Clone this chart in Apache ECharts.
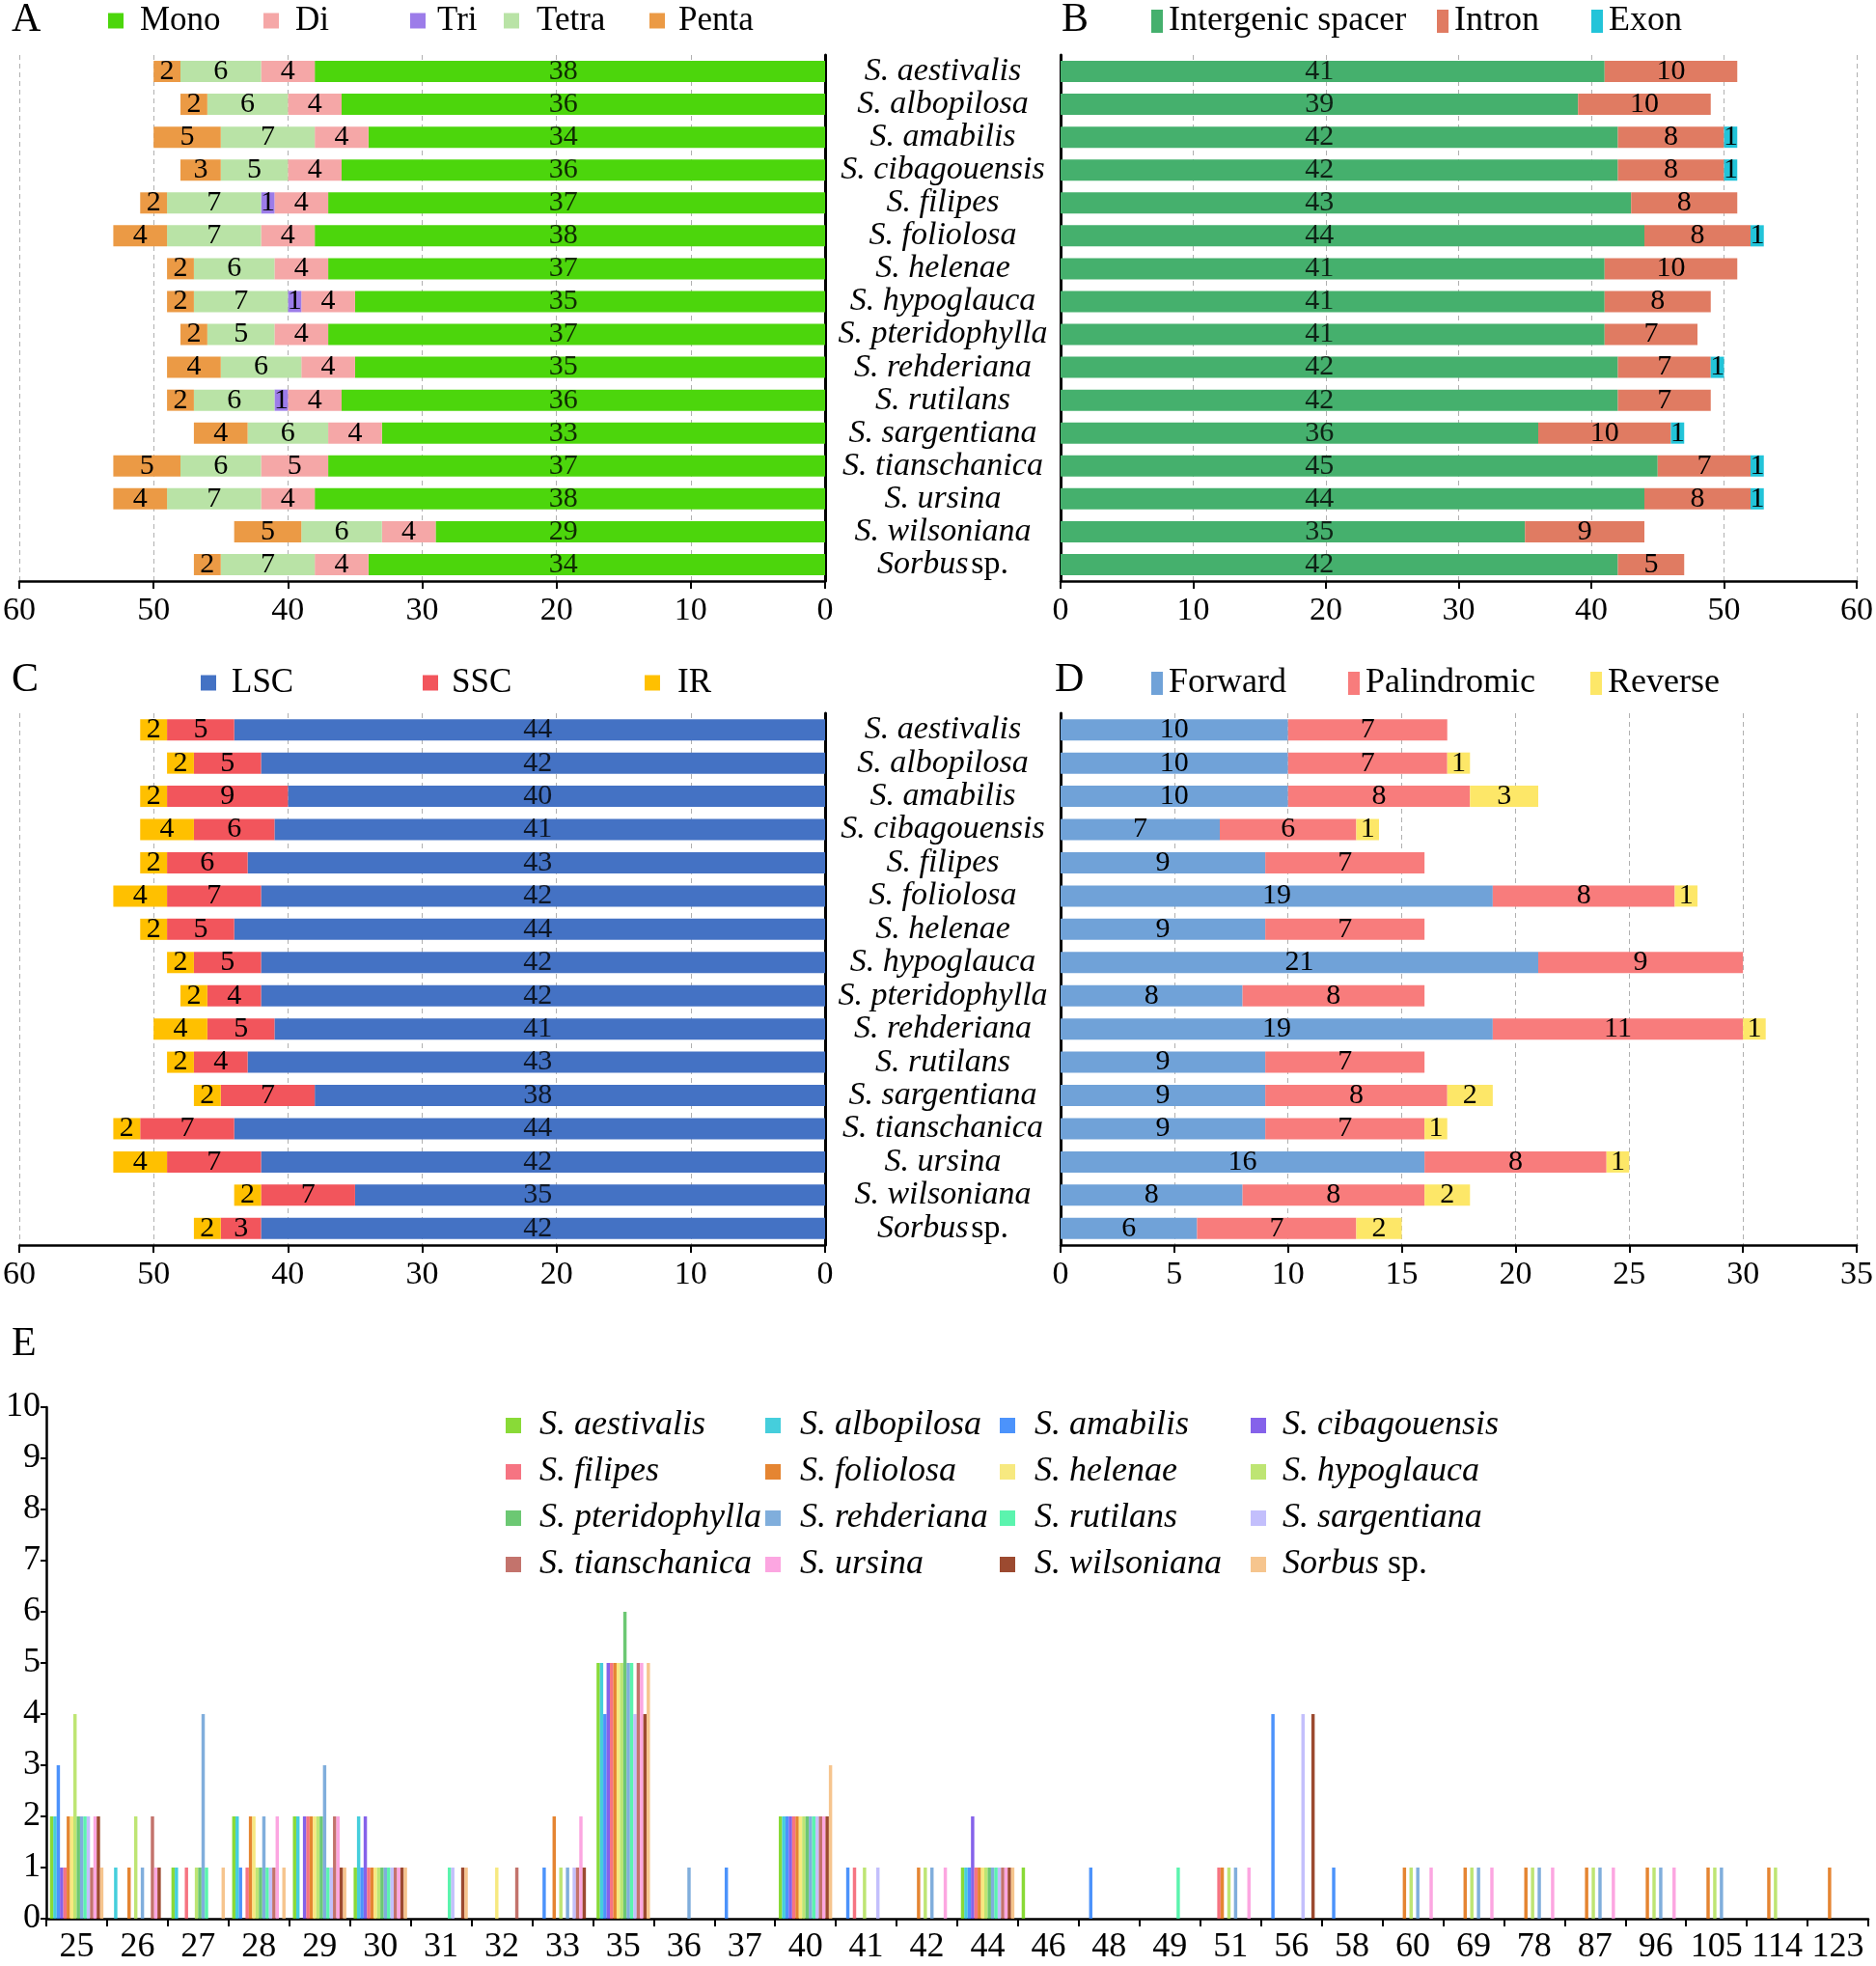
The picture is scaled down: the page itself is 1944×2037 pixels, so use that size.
<!DOCTYPE html>
<html>
<head>
<meta charset="utf-8">
<script src="https://cdn.jsdelivr.net/npm/echarts@6/dist/echarts.min.js"></script>
<style>
  html, body { margin: 0; padding: 0; background: #fff; }
  #chart { width: 1944px; height: 2037px; }
</style>
</head>
<body>
<div id="chart"></div>
<script>
var species = ['S. aestivalis', 'S. albopilosa', 'S. amabilis', 'S. cibagouensis', 'S. filipes',
  'S. foliolosa', 'S. helenae', 'S. hypoglauca', 'S. pteridophylla', 'S. rehderiana', 'S. rutilans',
  'S. sargentiana', 'S. tianschanica', 'S. ursina', 'S. wilsoniana', 'Sorbus sp.'];

// A - SSR types
var mono  = [38, 36, 34, 36, 37, 38, 37, 35, 37, 35, 36, 33, 37, 38, 29, 34];
var di    = [4, 4, 4, 4, 4, 4, 4, 4, 4, 4, 4, 4, 5, 4, 4, 4];
var tri   = [0, 0, 0, 0, 1, 0, 0, 1, 0, 0, 1, 0, 0, 0, 0, 0];
var tetra = [6, 6, 7, 5, 7, 7, 6, 7, 5, 6, 6, 6, 6, 7, 6, 7];
var penta = [2, 2, 5, 3, 2, 4, 2, 2, 2, 4, 2, 4, 5, 4, 5, 2];

// B - SSR location
var intergenic = [41, 39, 42, 42, 43, 44, 41, 41, 41, 42, 42, 36, 45, 44, 35, 42];
var intron     = [10, 10, 8, 8, 8, 8, 10, 8, 7, 7, 7, 10, 7, 8, 9, 5];
var exon       = [0, 0, 1, 1, 0, 1, 0, 0, 0, 1, 0, 1, 1, 1, 0, 0];

// C - SSR region
var lsc = [44, 42, 40, 41, 43, 42, 44, 42, 42, 41, 43, 38, 44, 42, 35, 42];
var ssc = [5, 5, 9, 6, 6, 7, 5, 5, 4, 5, 4, 7, 7, 7, 7, 3];
var ir  = [2, 2, 2, 4, 2, 4, 2, 2, 2, 4, 2, 2, 2, 4, 2, 2];

// D - long repeats
var forward     = [10, 10, 10, 7, 9, 19, 9, 21, 8, 19, 9, 9, 9, 16, 8, 6];
var palindromic = [7, 7, 8, 6, 7, 8, 7, 9, 8, 11, 7, 8, 7, 8, 8, 7];
var reverse     = [0, 1, 3, 1, 0, 1, 0, 0, 0, 1, 0, 2, 1, 1, 2, 2];

// E - repeat length distribution, one row per length, columns follow `species`
var eLengths = ['25', '26', '27', '28', '29', '30', '31', '32', '33', '35', '36', '37', '40', '41', '42',
  '44', '46', '48', '49', '51', '56', '58', '60', '69', '78', '87', '96', '105', '114', '123'];
var eCounts = [
  [2, 2, 3, 1, 1, 2, 2, 4, 2, 2, 2, 2, 1, 2, 2, 1],
  [0, 1, 0, 0, 0, 1, 0, 2, 0, 1, 0, 0, 2, 1, 1, 0],
  [1, 1, 0, 0, 1, 0, 0, 1, 1, 4, 1, 0, 0, 0, 0, 1],
  [2, 2, 1, 0, 1, 2, 2, 1, 1, 2, 1, 1, 1, 2, 0, 1],
  [2, 2, 0, 2, 2, 2, 2, 2, 2, 3, 1, 1, 2, 2, 1, 1],
  [1, 2, 1, 2, 1, 1, 1, 1, 1, 1, 1, 1, 1, 1, 1, 1],
  [0, 0, 0, 0, 0, 0, 0, 0, 0, 0, 1, 1, 0, 0, 1, 1],
  [0, 0, 0, 0, 0, 0, 1, 0, 0, 0, 0, 0, 1, 0, 0, 0],
  [0, 0, 1, 0, 0, 2, 0, 1, 0, 1, 0, 1, 1, 2, 1, 0],
  [5, 5, 4, 5, 5, 5, 5, 5, 6, 5, 5, 4, 5, 5, 4, 5],
  [0, 0, 0, 0, 0, 0, 0, 0, 0, 1, 0, 0, 0, 0, 0, 0],
  [0, 0, 1, 0, 0, 0, 0, 0, 0, 0, 0, 0, 0, 0, 0, 0],
  [2, 2, 2, 2, 2, 2, 2, 2, 2, 2, 2, 2, 2, 2, 2, 3],
  [0, 0, 1, 0, 1, 0, 0, 1, 0, 0, 0, 1, 0, 0, 0, 0],
  [0, 0, 0, 0, 0, 1, 0, 1, 0, 1, 0, 0, 0, 1, 0, 0],
  [1, 1, 1, 2, 1, 1, 1, 1, 1, 1, 1, 1, 1, 1, 1, 1],
  [1, 0, 0, 0, 0, 0, 0, 0, 0, 0, 0, 0, 0, 0, 0, 0],
  [0, 0, 1, 0, 0, 0, 0, 0, 0, 0, 0, 0, 0, 0, 0, 0],
  [0, 0, 0, 0, 0, 0, 0, 0, 0, 0, 1, 0, 0, 0, 0, 0],
  [0, 0, 0, 0, 1, 1, 0, 1, 0, 1, 0, 0, 0, 1, 0, 0],
  [0, 0, 4, 0, 0, 0, 0, 0, 0, 0, 0, 4, 0, 0, 4, 0],
  [0, 0, 1, 0, 0, 0, 0, 0, 0, 0, 0, 0, 0, 0, 0, 0],
  [0, 0, 0, 0, 0, 1, 0, 1, 0, 1, 0, 0, 0, 1, 0, 0],
  [0, 0, 0, 0, 0, 1, 0, 1, 0, 1, 0, 0, 0, 1, 0, 0],
  [0, 0, 0, 0, 0, 1, 0, 1, 0, 1, 0, 0, 0, 1, 0, 0],
  [0, 0, 0, 0, 0, 1, 0, 1, 0, 1, 0, 0, 0, 1, 0, 0],
  [0, 0, 0, 0, 0, 1, 0, 1, 0, 1, 0, 0, 0, 1, 0, 0],
  [0, 0, 0, 0, 0, 1, 0, 1, 0, 1, 0, 0, 0, 0, 0, 0],
  [0, 0, 0, 0, 0, 1, 0, 1, 0, 0, 0, 0, 0, 0, 0, 0],
  [0, 0, 0, 0, 0, 1, 0, 0, 0, 0, 0, 0, 0, 0, 0, 0]
];

var eColors = ['#74d414', '#24c6d6', '#2d80fa', '#7046e6', '#f55c6c', '#e0700e', '#f6e56a', '#b3e05a',
  '#52be5a', '#6aa0d6', '#3ef2a0', '#b9b4fb', '#b85a52', '#fb97dc', '#8b2a0c', '#f4bb7a'];

var SERIF = 'Liberation Serif, Times New Roman, serif';

var chart = echarts.init(document.getElementById('chart'));

function speciesText(name) {
  if (name === 'Sorbus sp.') return '{i|Sorbus} {n|sp.}';
  return '{i|' + name + '}';
}

function richSerif(size) {
  return {
    i: { fontFamily: SERIF, fontStyle: 'italic', fontSize: size, color: '#000', lineHeight: size },
    n: { fontFamily: SERIF, fontSize: size, color: '#000', lineHeight: size }
  };
}

function segLabel() {
  return {
    show: true, position: 'inside', color: '#000', fontFamily: SERIF, fontSize: 30,
    formatter: function (p) { return p.value > 0 ? p.value : ''; }
  };
}

function stackBar(name, data, color, grid, stack) {
  return {
    type: 'bar', name: name, data: data, stack: stack, xAxisIndex: grid, yAxisIndex: grid,
    barWidth: 22, itemStyle: { color: color }, label: segLabel()
  };
}

// labels of the first segment sit at a fixed x in the original figure
function fixedLabels(values, at, grid) {
  return {
    type: 'scatter', xAxisIndex: grid, yAxisIndex: grid, z: 5, silent: true,
    symbolSize: 1, itemStyle: { color: 'rgba(0,0,0,0)' },
    data: values.map(function (v, i) { return [at, i, v]; }),
    label: {
      show: true, position: 'inside', color: '#000', fontFamily: SERIF, fontSize: 30,
      formatter: function (p) { return p.data[2]; }
    }
  };
}

function legendAt(names, left, top, iw, ih, pad, size) {
  return {
    data: names, left: left, top: top, icon: 'rect', itemWidth: iw, itemHeight: ih,
    itemGap: 0, selectedMode: false, padding: 0,
    textStyle: { fontFamily: SERIF, fontSize: size, color: '#000', padding: [0, 0, 0, pad], lineHeight: size }
  };
}

function valueAxis(grid, max, interval, inverse) {
  return {
    type: 'value', gridIndex: grid, min: 0, max: max, interval: interval, inverse: inverse,
    axisLine: { show: true, lineStyle: { color: '#000', width: 2.5 } },
    axisTick: { show: true, length: 8, lineStyle: { color: '#000', width: 2 } },
    axisLabel: { color: '#000', fontFamily: SERIF, fontSize: 34, margin: 14 },
    splitLine: { show: true, lineStyle: { color: '#b0b0b0', type: [5, 4], width: 1 } }
  };
}

function catAxis(grid, position, showLabels) {
  return {
    type: 'category', gridIndex: grid, data: species, inverse: true, position: position,
    axisLine: { show: true, lineStyle: { color: '#000', width: 3 } },
    axisTick: { show: false },
    axisLabel: showLabels ? {
      show: true, interval: 0, align: 'center', margin: 122,
      formatter: speciesText, rich: richSerif(34)
    } : { show: false },
    splitLine: { show: false }
  };
}

var letters = [['A', 12, 0], ['B', 1100, 0], ['C', 12, 684], ['D', 1093, 684], ['E', 12, 1372]];

var eSeries = species.map(function (name, k) {
  return {
    type: 'bar', name: name, xAxisIndex: 4, yAxisIndex: 4,
    data: eCounts.map(function (row) { return row[k]; }),
    barGap: '0%', barCategoryGap: '12%',
    itemStyle: { color: eColors[k], opacity: 0.85 }
  };
});

var eLegendCols = [[0, 4, 8, 12], [1, 5, 9, 13], [2, 6, 10, 14], [3, 7, 11, 15]];
var eLegendLeft = [524, 793, 1036, 1296];
var eLegendPad = [14, 15, 15, 12];

var legends = [
  legendAt(['Mono'], 112, 4, 16, 16, 12, 35),
  legendAt(['Di'], 273, 4, 16, 16, 12, 35),
  legendAt(['Tri'], 425, 4, 16, 16, 7, 35),
  legendAt(['Tetra'], 522, 4, 16, 16, 13, 35),
  legendAt(['Penta'], 673, 4, 16, 16, 9, 35),
  legendAt(['Intergenic spacer'], 1193, 4, 12, 24, 1, 36),
  legendAt(['Intron'], 1489, 4, 12, 24, 1, 36),
  legendAt(['Exon'], 1649, 4, 12, 24, 1, 36),
  legendAt(['LSC'], 208, 690, 16, 16, 11, 35),
  legendAt(['SSC'], 438, 690, 16, 16, 9, 35),
  legendAt(['IR'], 668, 690, 16, 16, 13, 35),
  legendAt(['Forward'], 1193, 690, 12, 24, 1, 36),
  legendAt(['Palindromic'], 1397, 690, 12, 24, 1, 36),
  legendAt(['Reverse'], 1648, 690, 12, 24, 1, 36)
];
eLegendCols.forEach(function (col, c) {
  var lg = legendAt(col.map(function (k) { return species[k]; }), eLegendLeft[c], 1459, 16, 16, eLegendPad[c], 36);
  lg.orient = 'vertical';
  lg.itemGap = 12;
  lg.formatter = speciesText;
  lg.textStyle.rich = richSerif(36);
  legends.push(lg);
});

var option = {
  backgroundColor: '#ffffff',
  animation: false,
  textStyle: { fontFamily: SERIF },
  graphic: letters.map(function (l) {
    return { type: 'text', left: l[1], top: l[2], style: { text: l[0], fontSize: 42, fontFamily: SERIF, fill: '#000' } };
  }),
  legend: legends,
  grid: [
    { left: 10, width: 845, top: 57, height: 545 },
    { left: 1099, width: 839, top: 57, height: 545 },
    { left: 10, width: 845, top: 739, height: 551 },
    { left: 1099, width: 839, top: 739, height: 551 },
    { left: 48, width: 1888, top: 1458, height: 530 }
  ],
  xAxis: [
    valueAxis(0, 60, 10, true),
    valueAxis(1, 60, 10, false),
    valueAxis(2, 60, 10, true),
    valueAxis(3, 35, 5, false),
    {
      type: 'category', gridIndex: 4, data: eLengths,
      axisLine: { show: true, lineStyle: { color: '#000', width: 2.5 } },
      axisTick: { show: true, length: 8, lineStyle: { color: '#000', width: 2 } },
      axisLabel: { interval: 0, color: '#000', fontFamily: SERIF, fontSize: 36, margin: 12 }
    }
  ],
  yAxis: [
    catAxis(0, 'right', false),
    catAxis(1, 'left', true),
    catAxis(2, 'right', false),
    catAxis(3, 'left', true),
    {
      type: 'value', gridIndex: 4, min: 0, max: 10, interval: 1,
      axisLine: { show: true, lineStyle: { color: '#000', width: 2.5 } },
      axisTick: { show: true, length: 6, lineStyle: { color: '#000', width: 2 } },
      axisLabel: { color: '#000', fontFamily: SERIF, fontSize: 36, margin: 6 },
      splitLine: { show: false }
    }
  ],
  series: [
    stackBar('Mono', mono, '#4cd60c', 0, 'A'),
    stackBar('Di', di, '#f5a7a7', 0, 'A'),
    stackBar('Tri', tri, '#9c7ce9', 0, 'A'),
    stackBar('Tetra', tetra, '#b9e3a6', 0, 'A'),
    stackBar('Penta', penta, '#eb9a45', 0, 'A'),
    stackBar('Intergenic spacer', intergenic, '#45b06d', 1, 'B'),
    stackBar('Intron', intron, '#e07b62', 1, 'B'),
    stackBar('Exon', exon, '#22c4d9', 1, 'B'),
    stackBar('LSC', lsc, '#4472c4', 2, 'C'),
    stackBar('SSC', ssc, '#f2555c', 2, 'C'),
    stackBar('IR', ir, '#ffc000', 2, 'C'),
    stackBar('Forward', forward, '#70a2d8', 3, 'D'),
    stackBar('Palindromic', palindromic, '#f87c7c', 3, 'D'),
    stackBar('Reverse', reverse, '#fde768', 3, 'D')
  ].concat(eSeries).concat([
    fixedLabels(mono, 19.5, 0),
    fixedLabels(intergenic, 19.5, 1),
    fixedLabels(lsc, 21.4, 2)
  ])
};

// first segments carry their labels via the fixed-position series
[0, 5, 8].forEach(function (i) { option.series[i].label = { show: false }; });

chart.setOption(option);
</script>
</body>
</html>
